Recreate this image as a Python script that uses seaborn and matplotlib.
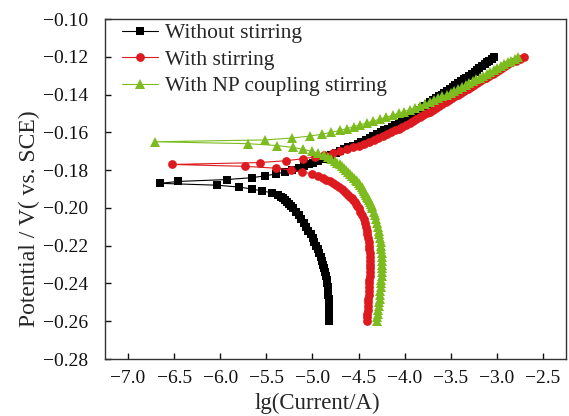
import matplotlib
matplotlib.use("Agg")
import matplotlib.pyplot as plt
from matplotlib.ticker import FuncFormatter
import seaborn as sns

# potential grid (V vs SCE), 2 mV steps in the cathodic tail, 1 mV after
E = [-0.260, -0.258, -0.256, -0.254, -0.252, -0.250, -0.248, -0.246, -0.244, -0.242,
     -0.240, -0.238, -0.236, -0.234, -0.232, -0.230, -0.228, -0.226, -0.224, -0.222,
     -0.220, -0.218, -0.216, -0.214, -0.212, -0.210, -0.208, -0.206, -0.204, -0.202,
     -0.200, -0.199, -0.198, -0.197, -0.196, -0.195, -0.194, -0.193, -0.192, -0.191,
     -0.190, -0.189, -0.188, -0.187, -0.186, -0.185, -0.184, -0.183, -0.182, -0.181,
     -0.180, -0.179, -0.178, -0.177, -0.176, -0.175, -0.174, -0.173, -0.172, -0.171,
     -0.170, -0.169, -0.168, -0.167, -0.166, -0.165, -0.164, -0.163, -0.162, -0.161,
     -0.160, -0.159, -0.158, -0.157, -0.156, -0.155, -0.154, -0.153, -0.152, -0.151,
     -0.150, -0.149, -0.148, -0.147, -0.146, -0.145, -0.144, -0.143, -0.142, -0.141,
     -0.140, -0.139, -0.138, -0.137, -0.136, -0.135, -0.134, -0.133, -0.132, -0.131,
     -0.130, -0.129, -0.128, -0.127, -0.126, -0.125, -0.124, -0.123, -0.122, -0.121,
     -0.120]

# lg(Current/A) for each curve
without_stirring = [
    -4.823, -4.823, -4.822, -4.821, -4.820, -4.820, -4.822, -4.826, -4.830, -4.835,
    -4.840, -4.845, -4.853, -4.862, -4.872, -4.882, -4.895, -4.910, -4.926, -4.943,
    -4.960, -4.978, -4.998, -5.020, -5.045, -5.070, -5.095, -5.122, -5.150, -5.180,
    -5.212, -5.230, -5.250, -5.272, -5.296, -5.320, -5.345, -5.375, -5.440, -5.550,
    -5.655, -5.795, -6.030, -6.655, -6.457, -5.930, -5.656, -5.511, -5.392, -5.300,
    -5.220, -5.150, -5.090, -5.040, -4.990, -4.940, -4.890, -4.840, -4.800, -4.750,
    -4.700, -4.655, -4.610, -4.560, -4.510, -4.470, -4.420, -4.380, -4.340, -4.300,
    -4.260, -4.220, -4.180, -4.140, -4.100, -4.060, -4.025, -3.990, -3.960, -3.930,
    -3.900, -3.870, -3.840, -3.810, -3.780, -3.750, -3.720, -3.690, -3.660, -3.630,
    -3.600, -3.570, -3.540, -3.510, -3.480, -3.450, -3.420, -3.390, -3.360, -3.330,
    -3.300, -3.270, -3.240, -3.215, -3.190, -3.160, -3.130, -3.110, -3.080, -3.055,
    -3.030]

with_stirring = [
    -4.410, -4.408, -4.405, -4.402, -4.400, -4.397, -4.394, -4.391, -4.388, -4.386,
    -4.384, -4.382, -4.380, -4.378, -4.377, -4.377, -4.377, -4.378, -4.380, -4.383,
    -4.387, -4.392, -4.398, -4.405, -4.413, -4.422, -4.433, -4.446, -4.462, -4.480,
    -4.500, -4.512, -4.525, -4.540, -4.556, -4.573, -4.592, -4.612, -4.634, -4.658,
    -4.684, -4.712, -4.743, -4.777, -4.812, -4.850, -4.890, -4.940, -5.000, -5.110,
    -5.230, -5.390, -5.735, -6.522, -5.565, -5.284, -5.104, -4.975, -4.870, -4.780,
    -4.700, -4.628, -4.562, -4.500, -4.442, -4.388, -4.336, -4.286, -4.238, -4.192,
    -4.147, -4.105, -4.064, -4.024, -3.985, -3.947, -3.909, -3.872, -3.835, -3.799,
    -3.763, -3.728, -3.693, -3.658, -3.624, -3.590, -3.556, -3.522, -3.488, -3.454,
    -3.420, -3.386, -3.352, -3.318, -3.284, -3.250, -3.216, -3.182, -3.148, -3.114,
    -3.080, -3.046, -3.012, -2.978, -2.944, -2.910, -2.874, -2.834, -2.792, -2.750,
    -2.710]

np_coupling = [
    -4.300, -4.297, -4.293, -4.288, -4.282, -4.277, -4.272, -4.267, -4.262, -4.258,
    -4.255, -4.252, -4.250, -4.248, -4.247, -4.246, -4.246, -4.247, -4.249, -4.252,
    -4.256, -4.261, -4.267, -4.274, -4.282, -4.291, -4.301, -4.312, -4.324, -4.337,
    -4.351, -4.359, -4.367, -4.376, -4.385, -4.395, -4.405, -4.416, -4.427, -4.439,
    -4.452, -4.466, -4.481, -4.497, -4.514, -4.532, -4.551, -4.571, -4.592, -4.614,
    -4.637, -4.658, -4.680, -4.705, -4.730, -4.760, -4.795, -4.835, -4.880, -4.940,
    -5.010, -5.100, -5.210, -5.385, -5.700, -6.709, -5.510, -5.220, -5.030, -4.900,
    -4.800, -4.700, -4.620, -4.550, -4.480, -4.410, -4.340, -4.270, -4.200, -4.130,
    -4.065, -4.005, -3.945, -3.890, -3.835, -3.780, -3.730, -3.680, -3.635, -3.590,
    -3.545, -3.500, -3.460, -3.420, -3.380, -3.340, -3.300, -3.262, -3.224, -3.186,
    -3.148, -3.110, -3.072, -3.034, -2.996, -2.958, -2.920, -2.882, -2.845, -2.808,
    -2.770]

labels = ["Without stirring", "With stirring", "With NP coupling stirring"]
colors = ["#000000", "#DD1A20", "#7DBC1E"]
markers = ["s", "o", "^"]
msizes = [5.6, 6.3, 7.0]

sns.set_style("ticks")
plt.rcParams["font.family"] = ["Liberation Serif", "DejaVu Serif"]

fig = plt.figure(figsize=(5.69, 4.16), dpi=100)
ax = fig.add_axes([105 / 569, 57 / 416, 461 / 569, 340 / 416])

for xs, lab, c, m, ms in zip([without_stirring, with_stirring, np_coupling],
                             labels, colors, markers, msizes):
    sns.lineplot(x=xs, y=E, sort=False, estimator=None, ax=ax, label=lab,
                 color=c, marker=m, markersize=ms, markeredgewidth=0,
                 markeredgecolor=c, linewidth=0.8)

ax.set_xlim(-7.25, -2.25)
ax.set_ylim(-0.28, -0.10)
ax.set_xticks([-7.0, -6.5, -6.0, -5.5, -5.0, -4.5, -4.0, -3.5, -3.0, -2.5])
ax.set_yticks([-0.28, -0.26, -0.24, -0.22, -0.20, -0.18, -0.16, -0.14, -0.12, -0.10])
ax.xaxis.set_major_formatter(FuncFormatter(lambda v, p: f"{v:.1f}".replace("-", "\u2212")))
ax.yaxis.set_major_formatter(FuncFormatter(lambda v, p: f"{v:.2f}".replace("-", "\u2212")))
ax.tick_params(direction="in", length=4, width=1, labelsize=14, colors="#111111")
ax.tick_params(axis="x", pad=8)
ax.tick_params(axis="y", pad=12)
for s in ax.spines.values():
    s.set_linewidth(1.0)
    s.set_color("#333333")

ax.set_xlabel("lg(Current/A)", fontsize=16.5)
ax.xaxis.set_label_coords((317 - 105) / 461, (416 - 393 - 57) / 340)
ax.set_ylabel("Potential / V( vs. SCE)", fontsize=17)
ax.yaxis.set_label_coords((40 - 105) / 461, (416 - 219 - 57) / 340)

ax.legend(loc="upper left", bbox_to_anchor=(0.027, 1.0), frameon=False,
          fontsize=15.5, handlelength=1.68, handletextpad=0.33,
          labelspacing=0.3, borderaxespad=0, borderpad=0.2)

fig.savefig("out.png", dpi=100)
